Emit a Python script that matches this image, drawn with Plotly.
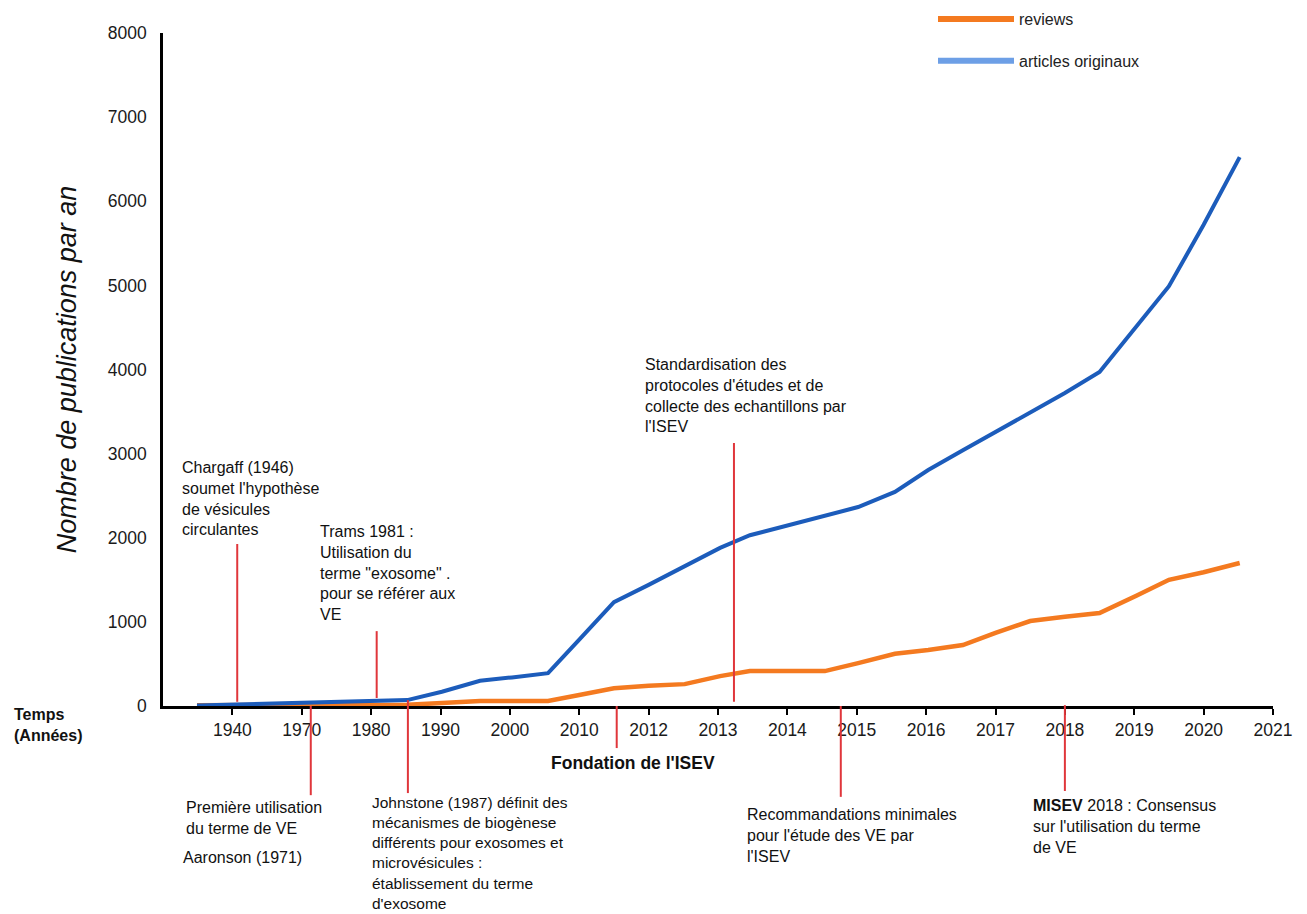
import plotly.graph_objects as go

# ---------------- data ----------------
# x-axis is a categorical-like timeline: position k (1..16) carries tick label k-1
tick_labels = ["1940", "1970", "1980", "1990", "2000", "2010", "2012", "2013",
               "2014", "2015", "2016", "2017", "2018", "2019", "2020", "2021"]
tick_pos = list(range(1, 17))

# articles originaux (blue)  -- x in axis position units
art_x = [0.49, 1.0, 2.0, 3.0, 3.52, 4.02, 4.57, 5.03, 5.55, 6.0, 6.5, 7.0, 7.5,
         8.03, 8.46, 9.0, 9.5, 10.02, 10.55, 11.03, 11.53, 12.0, 12.5, 13.0,
         13.5, 14.03, 14.5, 15.0, 15.52]
art_y = [5, 15, 30, 50, 70, 170, 300, 340, 390, 790, 1235, 1440, 1650,
         1880, 2030, 2150, 2260, 2365, 2545, 2805, 3040, 3255, 3480, 3720,
         3970, 4505, 4990, 5720, 6525]

# reviews (orange)
rev_x = [0.49, 1.0, 2.0, 3.0, 3.52, 4.02, 4.57, 5.03, 5.55, 6.0, 6.5, 7.0, 7.52,
         8.03, 8.46, 9.0, 9.54, 10.02, 10.55, 11.03, 11.53, 12.0, 12.5, 13.0,
         13.5, 14.03, 14.5, 15.0, 15.52]
rev_y = [10, 10, 10, 12, 15, 35, 60, 60, 60, 130, 210, 240, 260,
         355, 415, 415, 415, 510, 620, 665, 725, 870, 1010, 1060,
         1105, 1310, 1500, 1590, 1700]

# event markers: axis position, y-extent (data units, negative = below axis)
event_x = [1.07, 3.08, 8.23, 2.13, 3.53, 6.54, 9.77, 13.0]
event_y0 = [50, 95, 50, 0, 70, 0, 0, 10]
event_y1 = [1926, 890, 3126, -1060, -1035, -500, -1080, -1010]

# ---------------- figure ----------------
OFF = 8                      # page body margin of the html page
W, H = 1307 - OFF, 914 - OFF
L, T = 163 - OFF, 33 - OFF
PR, PB = 1273 - OFF, 706 - OFF   # plot right / bottom in figure px
R, B = W - PR, H - PB
PW, PH = PR - L, PB - T

def px(xs):
    return (xs - OFF - L) / PW

def py(ys):
    return (PB - (ys - OFF)) / PH

FONT = "Liberation Sans, Arial, sans-serif"
ORANGE = "#f47a20"
BLUE = "#1c5cbb"
BLUE_LEG = "#6d9fe6"
RED = "#e0363b"

fig = go.Figure()
fig.add_trace(go.Scatter(x=rev_x, y=rev_y, mode="lines", name="reviews",
                         line=dict(color=ORANGE, width=4.5), showlegend=False))
fig.add_trace(go.Scatter(x=art_x, y=art_y, mode="lines", name="articles originaux",
                         line=dict(color=BLUE, width=4), showlegend=False))
# legend entries
fig.add_trace(go.Scatter(x=[None], y=[None], mode="lines", name="reviews",
                         legendgroup="a", line=dict(color=ORANGE, width=6)))
fig.add_trace(go.Scatter(x=[None], y=[None], mode="lines", name="articles originaux",
                         legendgroup="b", line=dict(color=BLUE_LEG, width=6)))

for x, a, b in zip(event_x, event_y0, event_y1):
    fig.add_shape(type="line", xref="x", yref="paper", x0=x, x1=x,
                  y0=a / 8000, y1=b / 8000, line=dict(color=RED, width=2))

ann_font = dict(family=FONT, size=16, color="#111111")
texts = [
    (180, 457, "Chargaff (1946)<br>soumet l'hypothèse<br>de vésicules<br>circulantes", ann_font),
    (318, 521, "Trams 1981 :<br>Utilisation du<br>terme \"exosome\" .<br>pour se référer aux<br>VE", ann_font),
    (643, 354, "Standardisation des<br>protocoles d'études et de<br>collecte des echantillons par<br>l'ISEV", ann_font),
    (549, 751, "<b>Fondation de l'ISEV</b>", dict(family=FONT, size=17.5, color="#111111")),
    (184, 797, "Première utilisation<br>du terme de VE", ann_font),
    (181, 847, "Aaronson (1971)", ann_font),
    (370, 792, "Johnstone (1987) définit des<br>mécanismes de biogènese<br>différents pour exosomes et<br>microvésicules :<br>établissement du terme<br>d'exosome", dict(family=FONT, size=15.5, color="#111111")),
    (745, 804, "Recommandations minimales<br>pour l'étude des VE par<br>l'ISEV", ann_font),
    (1031, 795, "<b>MISEV</b> 2018 : Consensus<br>sur l'utilisation du terme<br>de VE", ann_font),
    (12, 704, "<b>Temps<br>(Années)</b>", dict(family=FONT, size=16, color="#111111")),
]
for xs, ys, t, f in texts:
    fig.add_annotation(x=px(xs), y=py(ys), xref="paper", yref="paper", text=t,
                       showarrow=False, xanchor="left", yanchor="top", align="left",
                       font=f)

fig.update_layout(
    width=W, height=H,
    margin=dict(l=L, r=R, t=T, b=B, autoexpand=False),
    plot_bgcolor="white", paper_bgcolor="white",
    font=dict(family=FONT, color="#111111"),
    legend=dict(x=px(933), y=py(2), xanchor="left", yanchor="top",
                font=dict(family=FONT, size=16, color="#222222"),
                tracegroupgap=18, itemwidth=76, bgcolor="rgba(0,0,0,0)"),
    xaxis=dict(range=[0, 16], tickmode="array", tickvals=tick_pos, ticktext=tick_labels,
               showline=True, linecolor="black", linewidth=2.5, automargin=False,
               ticks="outside", ticklen=6, tickwidth=2, tickcolor="black",
               showgrid=False, zeroline=False,
               tickfont=dict(family=FONT, size=17.5, color="#1a1a1a")),
    yaxis=dict(range=[0, 8000], tickmode="array", tickvals=list(range(0, 8001, 1000)),
               showline=True, linecolor="black", linewidth=2.5, ticks="", automargin=False,
               ticklabelstandoff=10, showgrid=False, zeroline=False,
               tickfont=dict(family=FONT, size=17.5, color="#1a1a1a"),
               title=dict(text="<i>Nombre de publications par an</i>", standoff=24,
                          font=dict(family=FONT, size=27, color="#111111"))),
)

fig.write_html("out.html")
